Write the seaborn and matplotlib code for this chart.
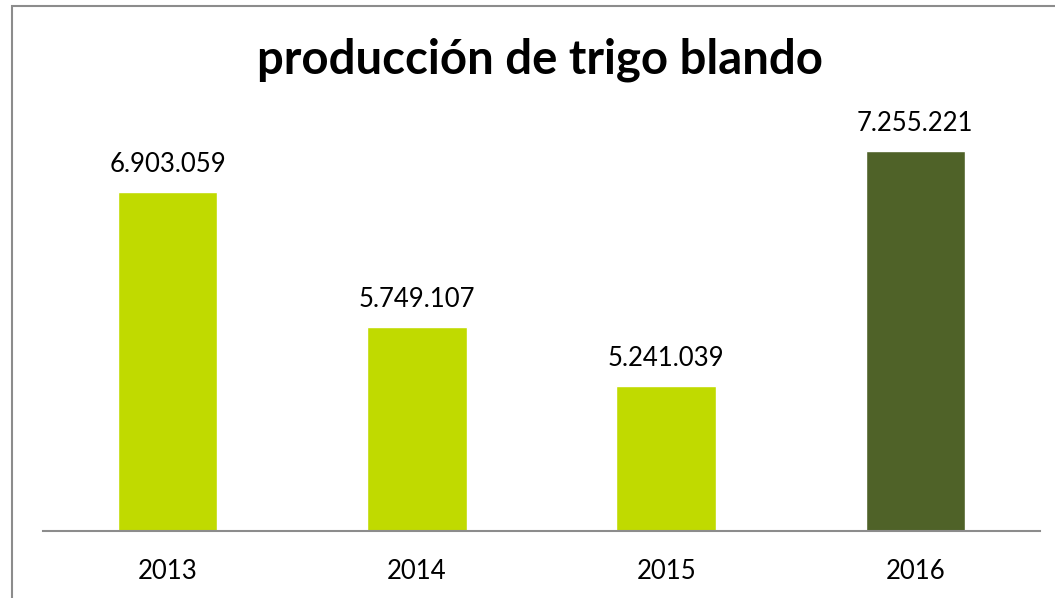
import pandas as pd
import matplotlib.pyplot as plt
import seaborn as sns
from matplotlib.patches import Rectangle

years = ['2013', '2014', '2015', '2016']
produccion = [6903059, 5749107, 5241039, 7255221]
etiquetas = ['6.903.059', '5.749.107', '5.241.039', '7.255.221']
colores = ['#C0DA00', '#C0DA00', '#C0DA00', '#4F6228']

df = pd.DataFrame({'year': years, 'produccion': produccion})

sns.set_style('white')
plt.rcParams['font.family'] = ['Lato', 'DejaVu Sans']
plt.rcParams['text.color'] = 'black'
plt.rcParams['xtick.color'] = 'black'

fig = plt.figure(figsize=(10.55, 5.98), dpi=100)
ax = fig.add_axes([43 / 1055, 1 - 531 / 598, 997 / 1055, (531 - 64) / 598])

sns.barplot(data=df, x='year', y='produccion', hue='year', palette=colores,
            legend=False, width=0.4, saturation=1, ax=ax)

ax.set_ylim(4000000, 8000000)
ax.set_xlim(-0.5, 3.5)
for i, txt in enumerate(etiquetas):
    ax.annotate(txt, (i, produccion[i]), xytext=(0, 11), textcoords='offset points',
                ha='center', va='bottom', fontsize=18.5, color='black')

ax.set_yticks([])
ax.set_xlabel('')
ax.set_ylabel('')
ax.tick_params(axis='x', length=0, labelsize=18.5, pad=20)
for s in ['top', 'left', 'right']:
    ax.spines[s].set_visible(False)
ax.spines['bottom'].set_color('#8C8C8C')
ax.spines['bottom'].set_linewidth(1.5)

fig.text(0.512, 1 - 60 / 598, 'producción de trigo blando', ha='center', va='center',
         fontsize=34, fontweight='bold', color='black')

fig.patches.append(Rectangle((12 / 1055, -0.05), 1.1, 1.05 - 6 / 598,
                             transform=fig.transFigure, fill=False,
                             edgecolor='#8C8C8C', linewidth=1.5))

fig.savefig('out.png', dpi=100)
